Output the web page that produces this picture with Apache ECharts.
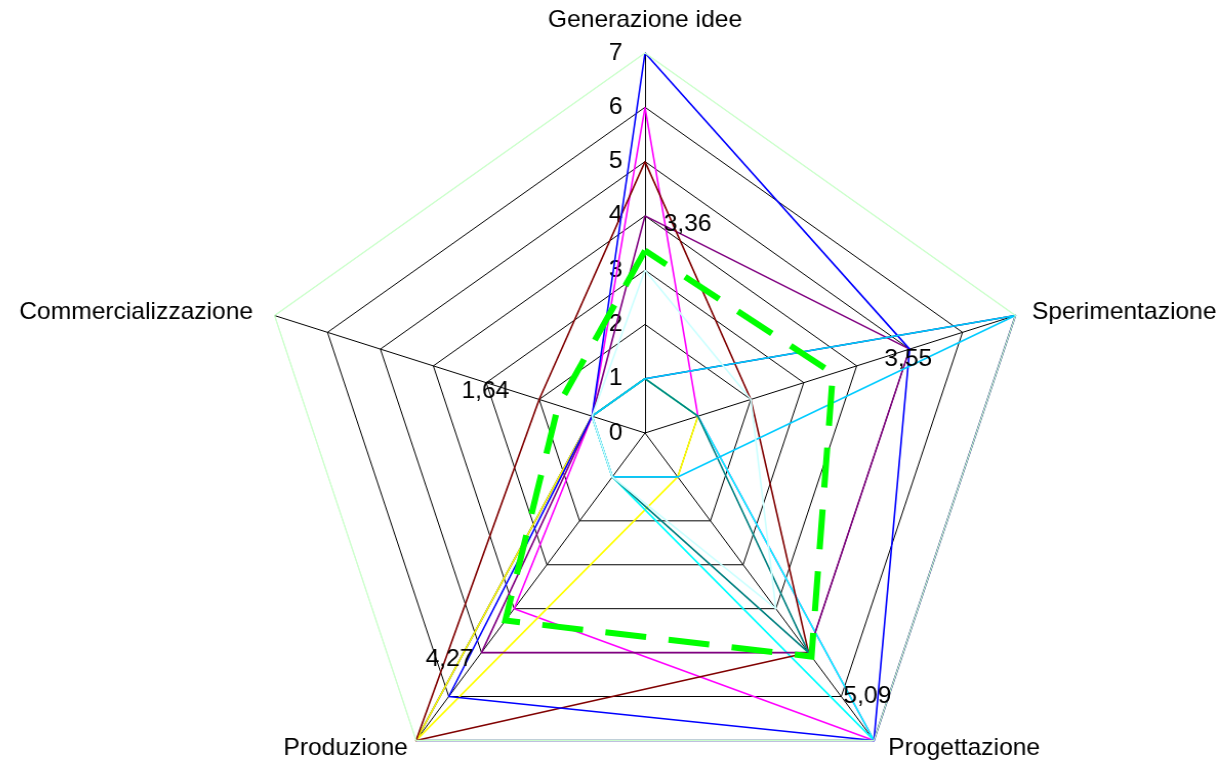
<!DOCTYPE html>
<html>
<head>
<meta charset="utf-8">
<title>Radar – fasi del processo</title>
<script src="https://cdn.jsdelivr.net/npm/echarts@6/dist/echarts.min.js"></script>
<style>
  html, body { margin: 0; padding: 0; background: #ffffff; overflow: hidden; }
  /* the plot is a little wider than tall: stretch the drawing horizontally around the radar centre */
  #chart { width: 1225px; height: 765px; transform: scaleX(1.025); transform-origin: 645px 0; }
</style>
</head>
<body>
<div id="chart"></div>
<script>
// Axes, listed counter-clockwise from the top (ECharts radar order)
const indicatorNames = ['Generazione idee', 'Commercializzazione', 'Produzione', 'Progettazione', 'Sperimentazione'];
const scaleMax = 7;
const tickLabels = ['0', '1', '2', '3', '4', '5', '6', '7'];

// One score per axis for every respondent, same order as indicatorNames
const risposta01 = [1, 1, 7, 7, 7];
const risposta02 = [6, 1, 4, 7, 1];
const risposta03 = [1, 1, 7, 1, 1];
const risposta04 = [1, 1, 1, 7, 1];
const risposta05 = [4, 1, 5, 5, 5];
const risposta06 = [5, 2, 7, 5, 2];
const risposta07 = [1, 1, 1, 5, 1];
const risposta08 = [7, 1, 6, 7, 5];
const risposta09 = [1, 1, 1, 1, 7];
const risposta10 = [3, 1, 1, 4, 2];
const risposta11 = [7, 7, 7, 7, 7];

// Mean profile (labelled values)
const media = [3.36, 1.64, 4.27, 5.09, 3.55];

const seriesColors = ['#000080', '#ff00ff', '#ffff00', '#00ffff', '#800080', '#800000',
                      '#008080', '#0000ff', '#00ccff', '#ccffff', '#ccffcc'];
const risposte = [risposta01, risposta02, risposta03, risposta04, risposta05, risposta06,
                  risposta07, risposta08, risposta09, risposta10, risposta11];

const FONT = '"Liberation Sans", Arial, Helvetica, sans-serif';
const FS = 24;

// text box paddings that set each axis name beside its vertex
const namePads = [
  [0, 0, 66, 0],   // Generazione idee
  [0, 21, 7, 0],   // Commercializzazione
  [15, 8, 0, 0],   // Produzione
  [15, 0, 0, 14],  // Progettazione
  [0, 0, 7, 16]    // Sperimentazione
];
const nameRich = {};
namePads.forEach((p, i) => {
  nameRich['n' + i] = { padding: p, fontSize: FS, fontFamily: FONT, color: '#000' };
});

// label paddings that move the mean labels off their points
const labelPads = [
  [0, 0, 53, 83],   // 3,36
  [0, 142, 28, 0],  // 1,64
  [78, 109, 0, 0],  // 4,27
  [79, 0, 0, 109],  // 5,09
  [0, 0, 28, 147]   // 3,55
];
const labelRich = {};
labelPads.forEach((p, i) => {
  labelRich['m' + i] = { padding: p, fontSize: FS, fontFamily: FONT, color: '#000' };
});

const fmtComma = v => v.toFixed(2).replace('.', ',');

const series = risposte.map((vals, i) => ({
  type: 'radar',
  silent: true,
  symbol: 'none',
  lineStyle: { color: seriesColors[i], width: i === 10 ? 1.2 : 1.6 },
  itemStyle: { color: seriesColors[i] },
  data: [{ value: vals }]
}));

series.push({
  type: 'radar',
  silent: true,
  symbol: 'circle',
  symbolSize: 0,
  lineStyle: { color: '#00ff00', width: 6, type: [40, 22], cap: 'butt', join: 'miter' },
  itemStyle: { color: '#00ff00' },
  label: {
    show: true,
    position: 'inside',
    color: '#000',
    fontSize: FS,
    fontFamily: FONT,
    formatter: p => {
      const v = Array.isArray(p.value) ? p.value[0] : p.value;
      const k = media.indexOf(v);
      return '{m' + k + '|' + fmtComma(v) + '}';
    },
    rich: labelRich
  },
  data: [{ value: media }]
});

const chart = echarts.init(document.getElementById('chart'), null, { renderer: 'canvas' });
chart.setOption({
  animation: false,
  backgroundColor: '#ffffff',
  textStyle: { fontFamily: FONT },
  radar: {
    center: [645, 433],
    radius: 380,
    startAngle: 90,
    shape: 'polygon',
    splitNumber: 7,
    nameGap: 0,
    indicator: indicatorNames.map((n, i) => ({
      name: n,
      min: 0,
      max: scaleMax,
      axisLabel: i === 0 ? {
        show: true,
        color: '#000',
        fontSize: FS,
        fontFamily: FONT,
        margin: 22,
        formatter: v => tickLabels[Math.round(v)]
      } : { show: false }
    })),
    axisName: {
      show: true,
      color: '#000',
      fontSize: FS,
      fontFamily: FONT,
      verticalAlign: 'middle',
      formatter: name => '{n' + indicatorNames.indexOf(name) + '|' + name + '}',
      rich: nameRich
    },
    axisLine: { show: true, lineStyle: { color: '#000', width: 1 } },
    axisTick: { show: false },
    axisLabel: { show: false },
    splitLine: {
      show: true,
      lineStyle: {
        color: ['#000', '#000', '#000', '#000', '#000', '#000', '#000', '#ccffcc'],
        width: 1
      }
    },
    splitArea: { show: false }
  },
  series: series
});
</script>
</body>
</html>
